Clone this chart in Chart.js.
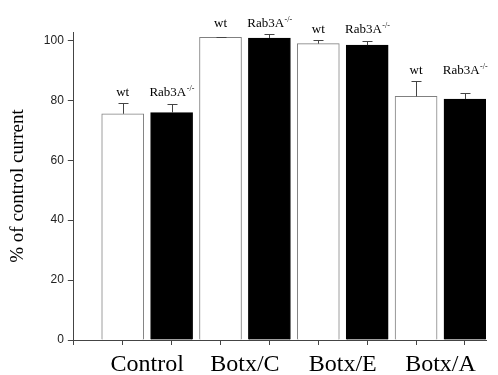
<!DOCTYPE html>
<html>
<head>
<meta charset="utf-8">
<title>% of control current</title>
<script src="https://cdn.jsdelivr.net/npm/chart.js@4/dist/chart.umd.min.js"></script>
<style>
  html, body { margin: 0; padding: 0; background: #fff; }
  #grafico { display: block; }
</style>
</head>
<body>
<canvas id="grafico" width="498" height="375"></canvas>
<script>
/* ===========================
   % de corriente control: wt vs Rab3A-/- por toxina
   =========================== */

const GRUPOS = ['Control', 'Botx/C', 'Botx/E', 'Botx/A'];
const WT_MEDIA = [75.5, 101.0, 98.9, 81.3];
const WT_SEM = [3.6, 0.2, 1.3, 5.1];
const RAB_MEDIA = [75.9, 100.8, 98.4, 80.4];
const RAB_SEM = [3.0, 1.4, 1.3, 1.9];
const Y_TICKS = [0, 20, 40, 60, 80, 100];

const COLOR_EJE = '#444';
const FUENTE_SERIF = '"Liberation Serif", "Times New Roman", serif';

// cada grupo ocupa dos posiciones del eje: wt en 2i+1, Rab3A en 2i+2
const posWt = i => 2 * i + 1;
const posRab = i => 2 * i + 2;

// --------- Plugins ---------

const barrasError = {
  id: 'barrasError',
  afterDatasetsDraw(chart) {
    const { ctx, scales: { y } } = chart;
    ctx.save();
    ctx.strokeStyle = COLOR_EJE;
    ctx.lineWidth = 1;
    chart.data.datasets.forEach((ds, di) => {
      chart.getDatasetMeta(di).data.forEach((bar, i) => {
        const x = Math.round(bar.x) + 0.5;
        const tope = Math.round(y.getPixelForValue(ds.data[i].y + ds.sem[i])) + 0.5;
        ctx.beginPath();
        ctx.moveTo(x, bar.y);
        ctx.lineTo(x, tope);
        ctx.moveTo(x - 5, tope);
        ctx.lineTo(x + 5, tope);
        ctx.stroke();
      });
    });
    ctx.restore();
  }
};

const etiquetas = {
  id: 'etiquetas',
  afterDatasetsDraw(chart) {
    const { ctx, scales: { y } } = chart;
    const barrasWt = chart.getDatasetMeta(0).data;
    const barrasRab = chart.getDatasetMeta(1).data;
    ctx.save();
    ctx.fillStyle = '#000';
    ctx.textBaseline = 'alphabetic';
    GRUPOS.forEach((g, i) => {
      const tope = Math.max(WT_MEDIA[i] + WT_SEM[i], RAB_MEDIA[i] + RAB_SEM[i]);
      const base = y.getPixelForValue(tope) - 7;

      ctx.font = '13px ' + FUENTE_SERIF;
      ctx.textAlign = 'center';
      ctx.fillText('wt', barrasWt[i].x, base);

      // Rab3A con superíndice -/-
      ctx.textAlign = 'left';
      const w1 = ctx.measureText('Rab3A').width;
      ctx.font = '8px ' + FUENTE_SERIF;
      const w2 = ctx.measureText('-/-').width;
      const x0 = barrasRab[i].x - (w1 + w2) / 2;
      ctx.font = '13px ' + FUENTE_SERIF;
      ctx.fillText('Rab3A', x0, base);
      ctx.font = '8px ' + FUENTE_SERIF;
      ctx.fillText('-/-', x0 + w1 + 0.5, base - 5);
    });
    ctx.restore();
  }
};

// --------- Gráfico ---------

const X_MAX = 8.43;

new Chart(document.getElementById('grafico'), {
  type: 'bar',
  data: {
    datasets: [
      {
        label: 'wt',
        data: WT_MEDIA.map((v, i) => ({ x: posWt(i), y: v })),
        sem: WT_SEM,
        backgroundColor: '#fff',
        borderColor: '#808080',
        borderWidth: 1,
        grouped: false,
        barThickness: 42,
        xAxisID: 'x',
      },
      {
        label: 'Rab3A-/-',
        data: RAB_MEDIA.map((v, i) => ({ x: posRab(i), y: v })),
        sem: RAB_SEM,
        backgroundColor: '#000',
        borderColor: '#000',
        borderWidth: 1,
        grouped: false,
        barThickness: 42,
        xAxisID: 'x',
      },
    ],
  },
  options: {
    responsive: false,
    animation: false,
    events: [],
    layout: { padding: { left: 7, right: 12, top: 32, bottom: -2 } },
    plugins: { legend: { display: false }, tooltip: { enabled: false } },
    scales: {
      x: {
        type: 'linear',
        min: 0,
        max: X_MAX,
        offset: false,
        afterBuildTicks: axis => {
          axis.ticks = Array.from({ length: GRUPOS.length * 2 + 1 }, (_, k) => ({ value: k }));
        },
        grid: { display: true, drawOnChartArea: false, drawTicks: true, tickLength: 5, color: COLOR_EJE, offset: false },
        border: { display: true, color: COLOR_EJE },
        ticks: { display: false },
      },
      x2: {
        type: 'linear',
        position: 'bottom',
        min: 0,
        max: X_MAX,
        offset: false,
        afterBuildTicks: axis => {
          axis.ticks = GRUPOS.map((g, i) => ({ value: posWt(i) + 0.5 }));
        },
        grid: { display: false },
        border: { display: false },
        ticks: {
          autoSkip: false,
          maxRotation: 0,
          padding: 0,
          color: '#000',
          font: { family: FUENTE_SERIF, size: 24, lineHeight: 1 },
          callback: (v, idx) => GRUPOS[idx],
        },
      },
      y: {
        min: 0,
        max: 102.8,
        afterBuildTicks: axis => {
          axis.ticks = Y_TICKS.map(v => ({ value: v }));
        },
        grid: { display: true, drawOnChartArea: false, drawTicks: true, tickLength: 6, color: COLOR_EJE },
        border: { display: true, color: COLOR_EJE },
        ticks: {
          padding: 4,
          color: '#222',
          font: { family: '"Liberation Sans", Arial, sans-serif', size: 12 },
        },
        title: {
          display: true,
          text: '% of control current',
          color: '#000',
          padding: { top: 0, bottom: 10 },
          font: { family: FUENTE_SERIF, size: 19 },
        },
      },
    },
  },
  plugins: [barrasError, etiquetas],
});
</script>
</body>
</html>
